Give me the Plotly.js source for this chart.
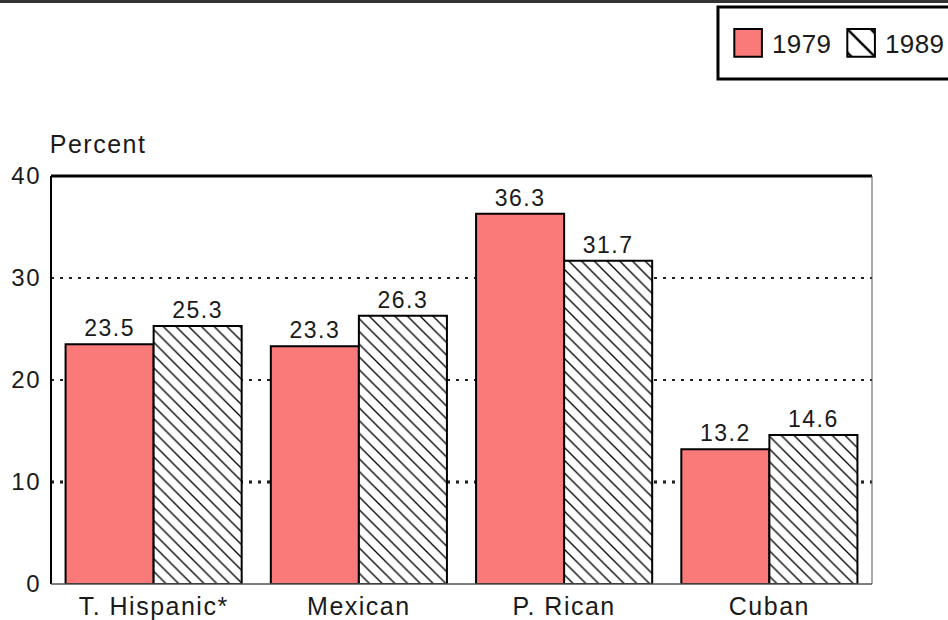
<!DOCTYPE html>
<html><head><meta charset="utf-8">
<script src="https://cdn.plot.ly/plotly-3.0.1.min.js"></script>
<style>
html,body{margin:0;padding:0;background:#fff;}
#chart{width:948px;height:620px;}
#chart text{letter-spacing:1.5px;}
#chart g.legend text.legendtext{letter-spacing:0.3px;transform:translate(12px,0px);}
#chart g.legendpoints path{transform:translate(28px,0px) scale(2.3);vector-effect:non-scaling-stroke;}
</style>
</head><body><div id="chart"></div>
<script>
const categories = ["T. Hispanic*", "Mexican", "P. Rican", "Cuban"];
const values1979 = [23.5, 23.3, 36.3, 13.2];
const values1989 = [25.3, 26.3, 31.7, 14.6];
const seriesNames = ["1979", "1989"];
const yTicks = [0, 10, 20, 30, 40];

const FONT = "Liberation Sans, Arial, sans-serif";
const TXT = '#1a1a1a';
const traces = [
  {type:'bar', name:seriesNames[0], x:categories, y:values1979,
   text:values1979.map(v=>v.toFixed(1)), textposition:'outside', cliponaxis:false,
   textfont:{family:FONT,size:23,color:TXT},
   marker:{color:'#fa7a7a', line:{color:'#000', width:2}}},
  {type:'bar', name:seriesNames[1], x:categories, y:values1989,
   text:values1989.map(v=>v.toFixed(1)), textposition:'outside', cliponaxis:false,
   textfont:{family:FONT,size:23,color:TXT},
   marker:{color:'#fff', line:{color:'#000', width:2},
     pattern:{shape:'\\', fgcolor:'#000', bgcolor:'#fff', size:9, solidity:0.15}}}
];
const layout = {
  width:948, height:620,
  margin:{l:51, r:76, t:176, b:36, autoexpand:false},
  paper_bgcolor:'#fff', plot_bgcolor:'#fff',
  font:{family:FONT, size:24, color:TXT},
  barmode:'group', bargap:0.142, bargroupgap:0,
  showlegend:true,
  legend:{orientation:'h', x:0.815, xanchor:'left', y:1.326, yanchor:'middle',
    borderwidth:0, bgcolor:'rgba(0,0,0,0)',
    font:{family:FONT,size:26,color:TXT}, entrywidth:68, entrywidthmode:'pixels', tracegroupgap:0},
  xaxis:{showline:false, ticks:'', ticklabelstandoff:5, tickfont:{family:FONT,size:25,color:TXT}, showgrid:false, zeroline:false},
  yaxis:{range:[0,40], tickvals:yTicks, ticks:'', ticklabelstandoff:9,
    showgrid:true, gridcolor:'#222', griddash:'3px,6px', gridwidth:1.5,
    zeroline:false, showline:false, tickfont:{family:FONT,size:24,color:TXT}},
  annotations:[{text:'Percent', xref:'paper', yref:'paper', x:0.002, y:1.078,
    xanchor:'left', yanchor:'middle', showarrow:false, font:{family:FONT,size:25,color:TXT}}],
  shapes:[
    {type:'line', xref:'paper', yref:'y', x0:0, x1:1, y0:10, y1:10, layer:'below', line:{color:'#000', width:3, dash:'3px,6px'}},
    {type:'line', xref:'paper', yref:'paper', x0:0, x1:1, y0:1, y1:1, line:{color:'#000', width:3}},
    {type:'line', xref:'paper', yref:'paper', x0:0, x1:0, y0:0, y1:1, line:{color:'#000', width:2}},
    {type:'line', xref:'paper', yref:'paper', x0:1, x1:1, y0:0, y1:1, line:{color:'#555', width:1}},
    {type:'line', xref:'paper', yref:'paper', x0:0, x1:1, y0:0, y1:0, line:{color:'#555', width:1.5}},
    {type:'line', xref:'paper', yref:'paper', x0:-0.07, x1:1.1, y0:1.428, y1:1.428, line:{color:'#333', width:3}},
    {type:'rect', xref:'paper', yref:'paper', x0:0.8124, x1:1.2, y0:1.2377, y1:1.4142, line:{color:'#000', width:3}, fillcolor:'rgba(0,0,0,0)'}
  ]
};
Plotly.newPlot('chart', traces, layout, {displayModeBar:false, staticPlot:true});
</script></body></html>
